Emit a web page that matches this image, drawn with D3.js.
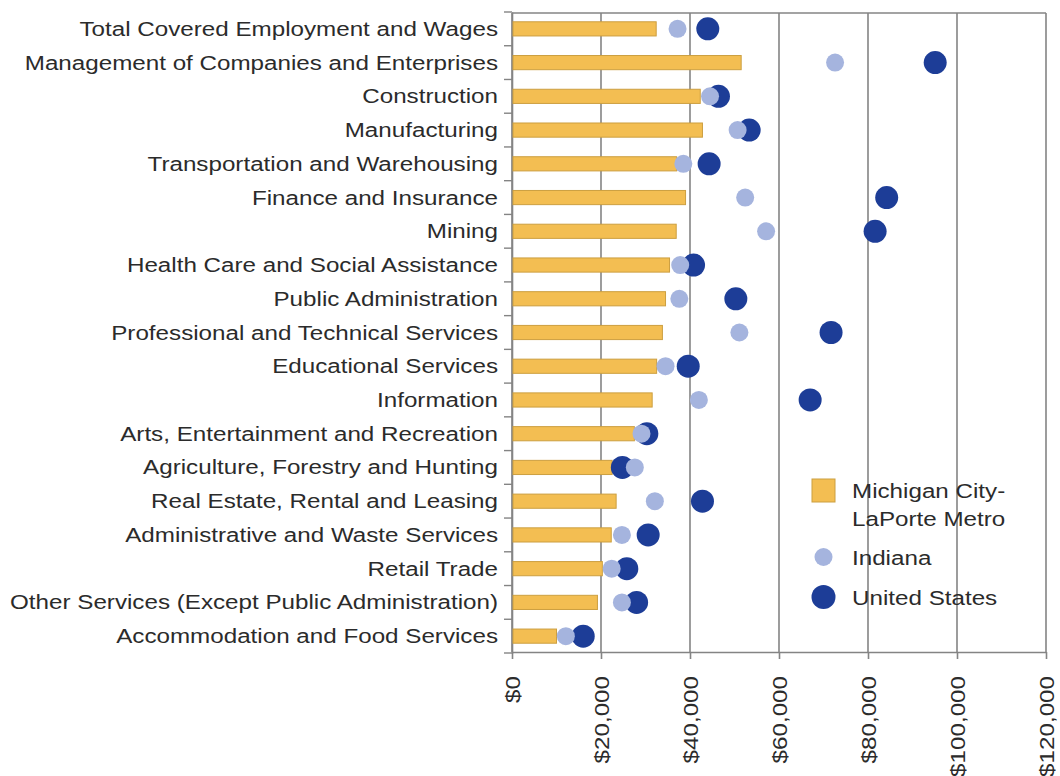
<!DOCTYPE html>
<html>
<head>
<meta charset="utf-8">
<script src="https://cdn.jsdelivr.net/npm/d3@7"></script>
<style>
  html, body { margin: 0; padding: 0; background: #ffffff; }
  svg { display: block; }
  text { font-family: "Liberation Sans", Arial, Helvetica, sans-serif; fill: #2b2b2b; }
</style>
</head>
<body>
<svg id="chart" width="1060" height="776"></svg>
<script>
// Average annual wages by industry
const categories = [
  "Total Covered Employment and Wages",
  "Management of Companies and Enterprises",
  "Construction",
  "Manufacturing",
  "Transportation and Warehousing",
  "Finance and Insurance",
  "Mining",
  "Health Care and Social Assistance",
  "Public Administration",
  "Professional and Technical Services",
  "Educational Services",
  "Information",
  "Arts, Entertainment and Recreation",
  "Agriculture, Forestry and Hunting",
  "Real Estate, Rental and Leasing",
  "Administrative and Waste Services",
  "Retail Trade",
  "Other Services (Except Public Administration)",
  "Accommodation and Food Services"
];

const metroWages   = [32400, 51500, 42300, 42800, 37000, 39000, 36900, 35400, 34500, 33800, 32500, 31500, 27500, 22500, 23400, 22300, 20300, 19200, 10000];
const indianaWages = [37200, 72600, 44500, 50700, 38500, 52400, 57100, 37800, 37600, 51100, 34500, 42000, 29100, 27600, 32100, 24700, 22400, 24700, 12100];
const usWages      = [44000, 95100, 46400, 53300, 44300, 84200, 81600, 40800, 50300, 71700, 39600, 67000, 30300, 24800, 42800, 30600, 25800, 28000, 16000];

const xTicks = [0, 20000, 40000, 60000, 80000, 100000, 120000];

const seriesNames = ["Michigan City-\nLaPorte Metro", "Indiana", "United States"];

const colors = {
  barFill: "#F3BE52",
  barStroke: "#CC9F40",
  indiana: "#A5B4DE",
  us: "#1D3D97",
  grid: "#848484"
};

const FONT = 20;      // px
const STRETCH = 1.21; // horizontal widening of the typeface

const svg = d3.select("#chart");
const plotLeft = 512, plotRight = 1046, plotTop = 12, plotBottom = 653;

const x = d3.scaleLinear().domain([0, 120000]).range([plotLeft, plotRight]);
const y = d3.scaleBand().domain(categories).range([plotTop, plotBottom])
  .paddingInner(0.58).paddingOuter(0.29);

const rows = categories.map((c, i) => ({
  cat: c, metro: metroWages[i], indiana: indianaWages[i], us: usWages[i]
}));

// vertical gridlines
svg.append("g").selectAll("line").data(xTicks).join("line")
  .attr("x1", d => x(d)).attr("x2", d => x(d))
  .attr("y1", plotTop + 1).attr("y2", plotBottom - 1)
  .attr("stroke", colors.grid).attr("stroke-width", 1.6);

// top frame line
svg.append("line")
  .attr("x1", plotLeft).attr("x2", plotRight).attr("y1", plotTop + 1).attr("y2", plotTop + 1)
  .attr("stroke", colors.grid).attr("stroke-width", 1.6);

// bottom axis
const xAxis = d3.axisBottom(x).tickValues(xTicks)
  .tickFormat(d => "$" + d3.format(",")(d))
  .tickSizeInner(7).tickSizeOuter(0);
const gx = svg.append("g").attr("transform", `translate(0,${plotBottom - 1})`).call(xAxis);
gx.select(".domain").attr("stroke", colors.grid).attr("stroke-width", 1.6);
gx.selectAll(".tick line").attr("stroke", colors.grid).attr("stroke-width", 1.6);
gx.selectAll(".tick text")
  .attr("x", 0).attr("y", 0).attr("dy", "0.36em")
  .attr("text-anchor", "end")
  .attr("font-size", FONT)
  .attr("fill", "#2b2b2b")
  .attr("transform", `translate(0,24) rotate(-90) scale(${STRETCH},1)`);

// left axis: category labels
const yAxis = d3.axisLeft(y).tickSize(0);
const gy = svg.append("g").attr("transform", `translate(${plotLeft},0)`).call(yAxis);
gy.select(".domain").attr("stroke", colors.grid).attr("stroke-width", 1.6);
gy.selectAll(".tick text")
  .attr("x", 0).attr("dy", "0.35em")
  .attr("text-anchor", "end")
  .attr("font-size", FONT)
  .attr("fill", "#2b2b2b")
  .attr("transform", `translate(-14,0) scale(${STRETCH},1)`);

// small ticks between category rows
const step = y.step();
const boundaries = d3.range(categories.length + 1).map(i => plotTop + i * step);
svg.append("g").selectAll("line").data(boundaries).join("line")
  .attr("x1", plotLeft - 8).attr("x2", plotLeft)
  .attr("y1", d => d).attr("y2", d => d)
  .attr("stroke", colors.grid).attr("stroke-width", 1.4);

// metro bars
svg.append("g").selectAll("rect").data(rows).join("rect")
  .attr("x", x(0) + 1)
  .attr("y", d => y(d.cat))
  .attr("width", d => x(d.metro) - x(0) - 1)
  .attr("height", y.bandwidth())
  .attr("fill", colors.barFill)
  .attr("stroke", colors.barStroke)
  .attr("stroke-width", 1);

// United States dots
svg.append("g").selectAll("circle").data(rows).join("circle")
  .attr("cx", d => x(d.us))
  .attr("cy", d => y(d.cat) + y.bandwidth() / 2)
  .attr("r", 11.5)
  .attr("fill", colors.us);

// Indiana dots
svg.append("g").selectAll("circle").data(rows).join("circle")
  .attr("cx", d => x(d.indiana))
  .attr("cy", d => y(d.cat) + y.bandwidth() / 2)
  .attr("r", 9)
  .attr("fill", colors.indiana);

// legend
const legend = svg.append("g");
legend.append("rect")
  .attr("x", 812).attr("y", 479).attr("width", 23).attr("height", 23)
  .attr("fill", colors.barFill).attr("stroke", colors.barStroke).attr("stroke-width", 1);
legend.append("circle").attr("cx", 823.5).attr("cy", 557).attr("r", 9).attr("fill", colors.indiana);
legend.append("circle").attr("cx", 823.5).attr("cy", 597).attr("r", 12).attr("fill", colors.us);

function legendText(str, yBase) {
  legend.append("text")
    .attr("font-size", FONT)
    .attr("transform", `translate(852,${yBase}) scale(${STRETCH},1)`)
    .text(str);
}
const metroLines = seriesNames[0].split("\n");
legendText(metroLines[0], 498);
legendText(metroLines[1], 526);
legendText(seriesNames[1], 565);
legendText(seriesNames[2], 605);
</script>
</body>
</html>
